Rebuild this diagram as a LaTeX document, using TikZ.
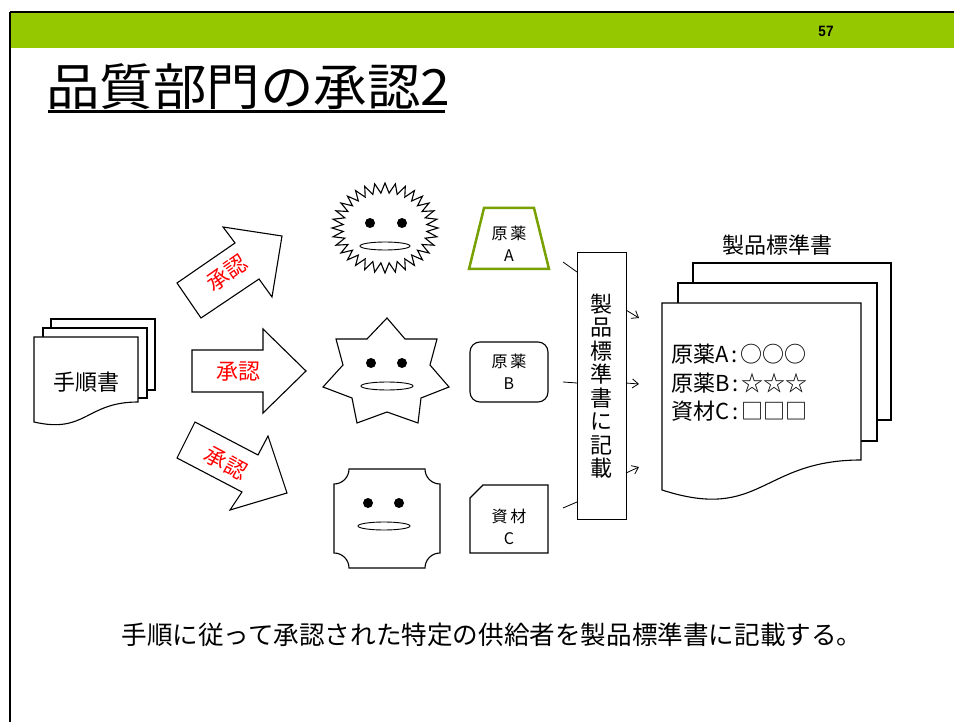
\documentclass[tikz,border=0pt]{standalone}
\usepackage{fontspec}
\setmainfont{Noto Sans CJK JP}
\newfontfamily\latinbold{Liberation Sans}
\usetikzlibrary{arrows.meta}
\definecolor{barGreen}{RGB}{150,200,0}
\definecolor{frameGreen}{RGB}{119,160,0}

\begin{document}
\begin{tikzpicture}[x=1pt,y=-1pt,
  outline/.style={draw=black,line width=1.1pt,fill=white},
  eye/.style={fill=black},
  mouth/.style={draw=black,line width=0.9pt,fill=white},
  stamp/.style={text=red,inner sep=0pt,font=\fontsize{22}{22}\selectfont},
  lbl/.style={font=\fontsize{16}{22}\selectfont,align=center,inner sep=0pt},
  link/.style={draw=black,line width=0.8pt},
  feed/.style={link,-{Straight Barb[length=6pt,width=9pt]}}
]
\useasboundingbox (0,0) rectangle (954,722);
\fill[white] (0,0) rectangle (954,722);

% header bar and frame
\fill[barGreen] (10,13) rectangle (954,48);
\draw[line width=2pt] (10,12) -- (954,12);
\draw[line width=2pt] (10,12) -- (10,722);
\node[font=\latinbold\bfseries\fontsize{15}{15}\selectfont,xscale=0.9] (page) at (826,31) {57};

% title
\node[anchor=base west,inner sep=0pt,xscale=1.07,font=\fontsize{50}{50}\selectfont] (title) at (46,106) {品質部門の承認2};
\draw[line width=3pt] (48,112) -- (445,112);

% procedure document stack
\draw[outline] (51,319) rectangle (155,390);
\draw[outline] (43,328) rectangle (147,398);
\draw[outline] (34,337) -- (138,337) -- (138,402) .. controls (86,402) and (86,434) .. (34,422) -- cycle;
\node[font=\fontsize{22}{22}\selectfont] (proc) at (86,382) {手順書};

% approval block arrows
\draw[outline] (177,283) -- (201,318) -- (259,279) -- (272,297) -- (282,236) -- (223,227) -- (235,243) -- cycle;
\draw[outline] (192,350) -- (263,350) -- (263,329) -- (306,371) -- (263,413) -- (263,392) -- (192,392) -- cycle;
\draw[outline] (195,422) -- (258,455) -- (268,436) -- (287,493) -- (230,510) -- (242,492) -- (177,458) -- cycle;
\node[stamp,rotate=35] (okA) at (227,273) {承認};
\node[stamp] (okB) at (238,372) {承認};
\node[stamp,rotate=-28] (okC) at (226,463) {承認};

% supplier faces
\draw[outline] (438,228) \foreach \i in {0,...,31} {
    -- ({385+53*cos(\i*11.25)},{228+45*sin(\i*11.25)})
    -- ({385+42*cos(\i*11.25+5.625)},{228+35*sin(\i*11.25+5.625)}) } -- cycle;
\fill[eye] (370,223) circle (5pt);
\fill[eye] (402,223) circle (5pt);
\draw[mouth] (385,246) ellipse [x radius=25pt, y radius=4pt];

\draw[outline] (387,318) -- (405,339) -- (437,339) -- (430,365) -- (449,387) -- (421,398) -- (418,423)
  -- (387,412) -- (357,423) -- (352,398) -- (323,387) -- (343,365) -- (336,339) -- (367,339) -- cycle;
\fill[eye] (371,363) circle (5pt);
\fill[eye] (402,363) circle (5pt);
\draw[mouth] (387,386) ellipse [x radius=26pt, y radius=4pt];

\draw[outline] (349,469) -- (425,469) .. controls (425,477.3) and (431.7,484) .. (440,484)
  -- (440,553) .. controls (431.7,553) and (425,559.7) .. (425,568)
  -- (349,568) .. controls (349,559.7) and (342.3,553) .. (334,553)
  -- (334,484) .. controls (342.3,484) and (349,477.3) .. (349,469) -- cycle;
\fill[eye] (368,503) circle (5pt);
\fill[eye] (399,503) circle (5pt);
\draw[mouth] (384,526) ellipse [x radius=26pt, y radius=4pt];

% materials
\draw[draw=frameGreen,line width=2.5pt,fill=white] (484,208) -- (534,208) -- (549,269) -- (469,269) -- cycle;
\node[lbl] (matA) at (509,244) {原\,薬\\A};
\draw[outline,rounded corners=10pt] (470,342) rectangle (548,402);
\node[lbl] (matB) at (509,372) {原\,薬\\B};
\draw[outline] (483,485) -- (548,485) -- (548,553) -- (470,553) -- (470,498) -- cycle;
\node[lbl] (matC) at (509,527) {資\,材\\C};

% product standard entry box
\node[draw,line width=1pt,fill=white,minimum width=49pt,minimum height=266pt,inner sep=0pt,
  align=center,font=\fontsize{22}{23.5}\selectfont] (vbox) at (601.5,386) {製\\品\\標\\準\\書\\に\\記\\載};

\coordinate (fromA) at (563,262);
\coordinate (fromB) at (563,382);
\coordinate (fromC) at (563,508);
\coordinate (inA) at (577,272);
\coordinate (inB) at (577,383);
\coordinate (inC) at (577,502);
\draw[link] (fromA) -- (inA);
\draw[link] (fromB) -- (inB);
\draw[link] (fromC) -- (inC);

\coordinate (outA) at (626,310);
\coordinate (outB) at (626,383);
\coordinate (outC) at (626,473);
\coordinate (docA) at (639,318);
\coordinate (docB) at (639,384);
\coordinate (docC) at (639,467);
\draw[feed] (outA) -- (docA);
\draw[feed] (outB) -- (docB);
\draw[feed] (outC) -- (docC);

% product standard document stack
\node[font=\fontsize{22}{22}\selectfont] (stdlabel) at (777,245) {製品標準書};
\draw[outline] (693,263) rectangle (891,420);
\draw[outline] (678,283) rectangle (877,441);
\draw[outline] (662,303) -- (861,303) -- (861,460) .. controls (761,460) and (761,522) .. (662,490) -- cycle;
\node[anchor=west,align=left,inner sep=0pt,font=\fontsize{22}{28.5}\selectfont] (entries) at (671,383)
  {原薬A\hspace{3pt}:\hspace{3pt}○○○\\原薬B\hspace{3pt}:\hspace{3pt}☆☆☆\\資材C\hspace{3pt}:\hspace{3pt}□□□};

% caption
\node[font=\fontsize{25.6}{25.6}\selectfont] (caption) at (492,635)
  {手順に従って承認された特定の供給者を製品標準書に記載する。};
\end{tikzpicture}
\end{document}
